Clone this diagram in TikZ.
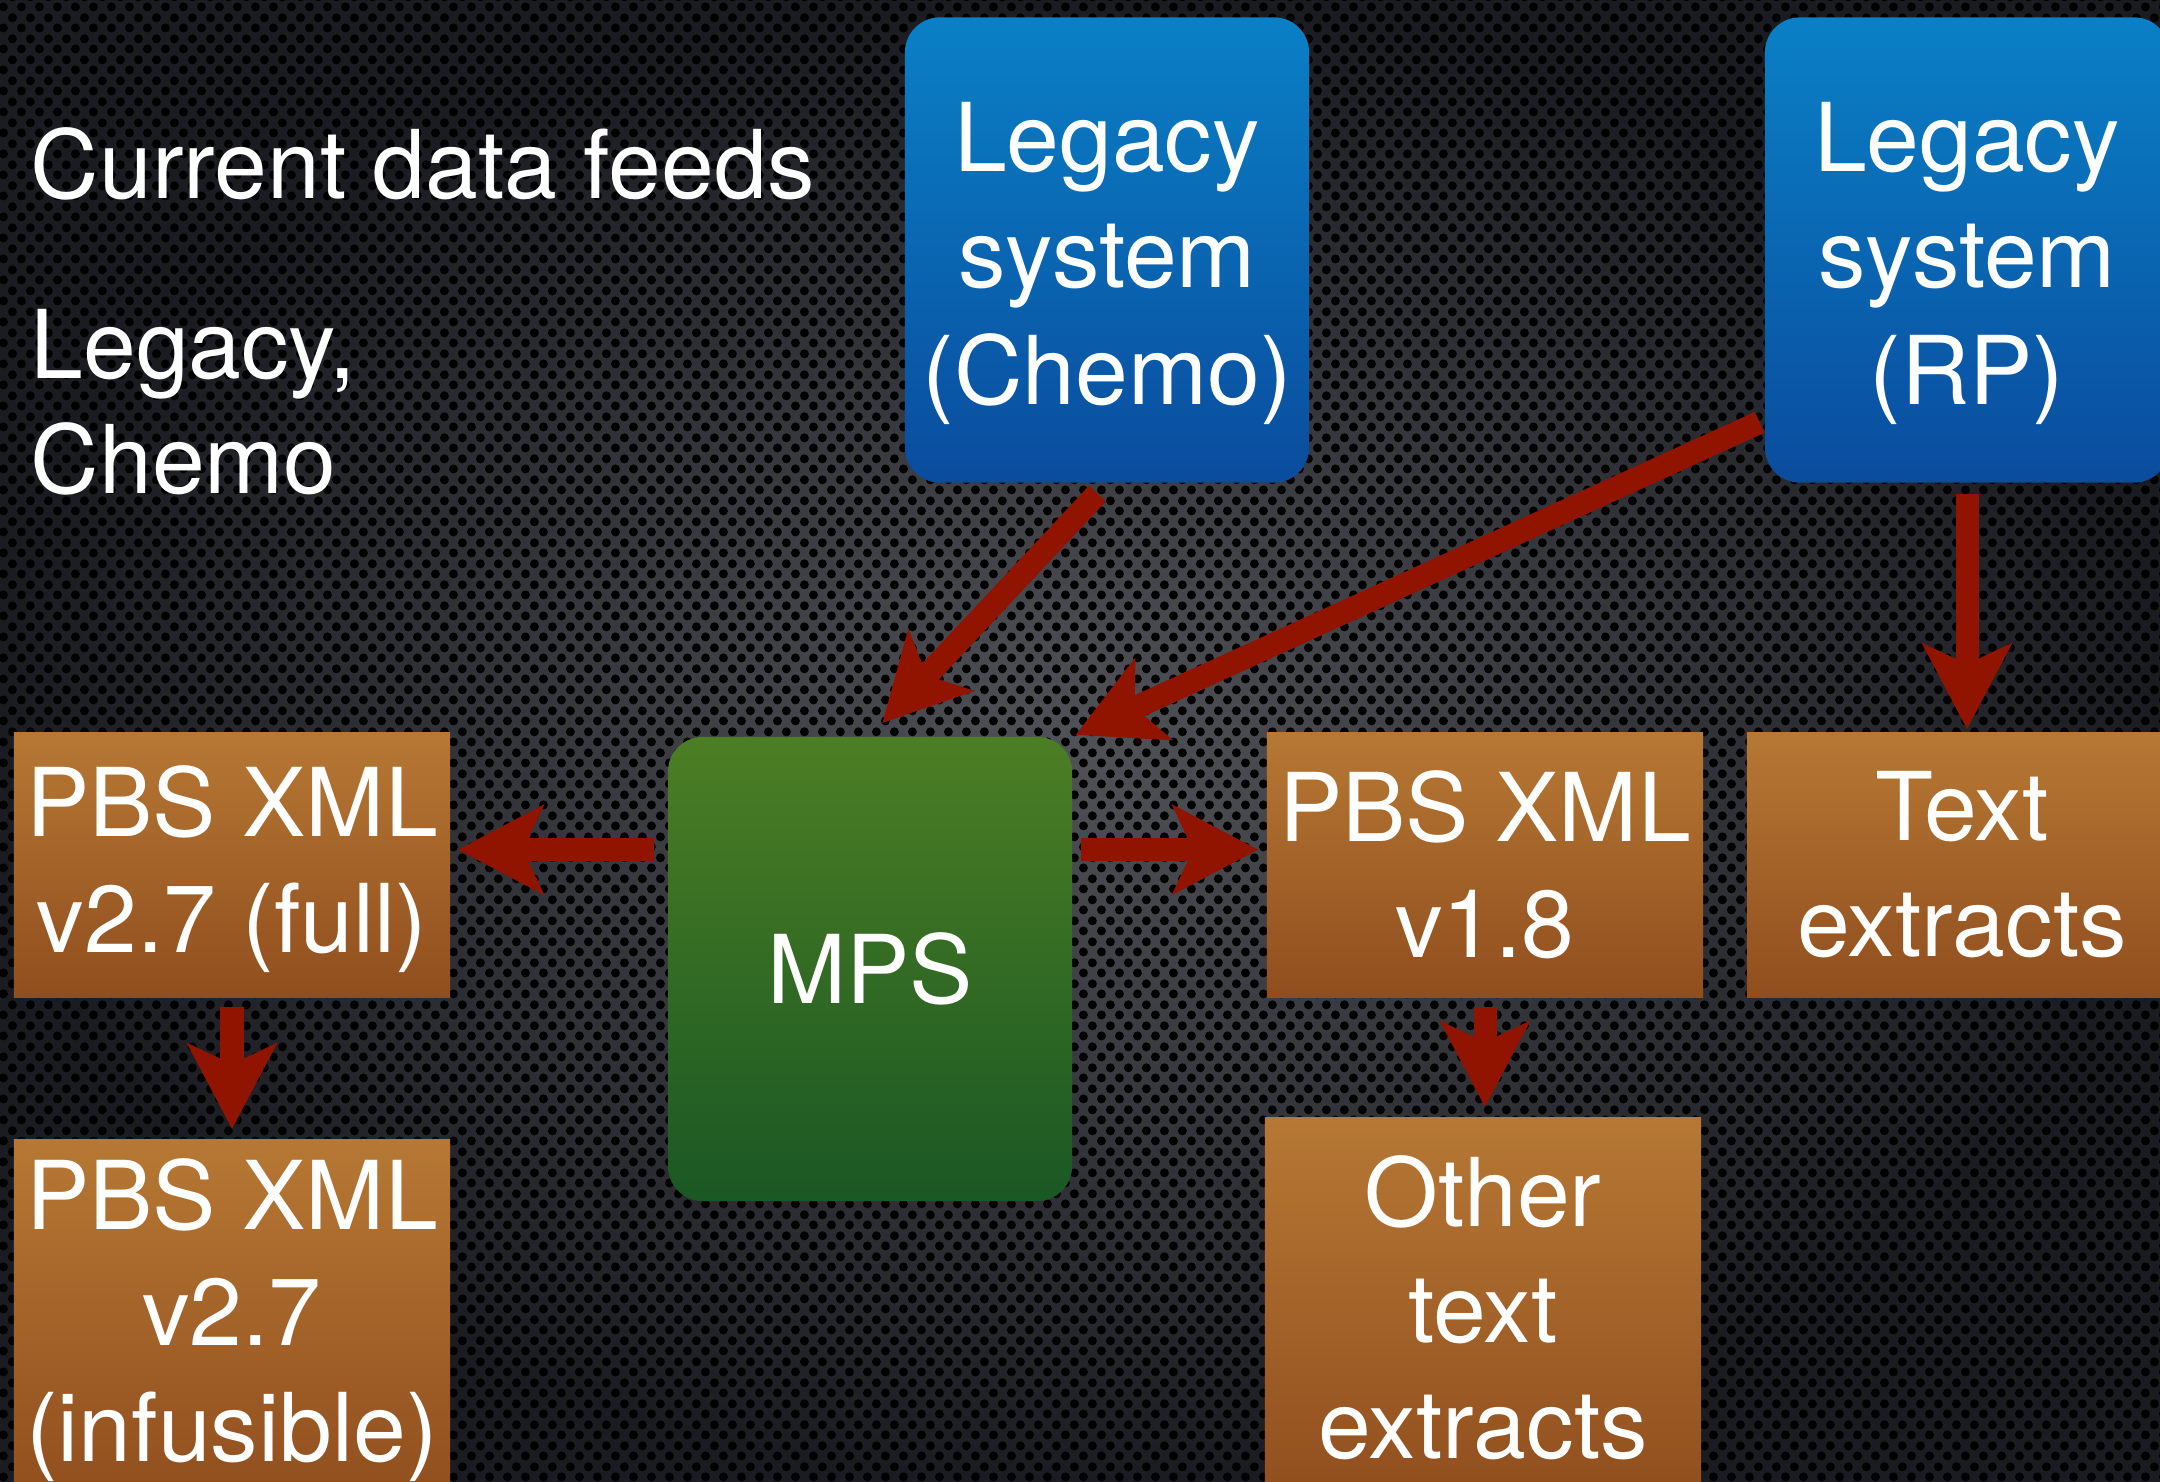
\documentclass[tikz,border=0pt]{standalone}
\usepackage{fontspec}
\setmainfont{TeX Gyre Heros}
\usetikzlibrary{arrows.meta,patterns.meta,positioning}
\definecolor{bgin}{RGB}{80,82,88}
\definecolor{bgout}{RGB}{26,28,33}
\definecolor{legtop}{RGB}{10,128,198}
\definecolor{legbot}{RGB}{10,76,158}
\definecolor{mpstop}{RGB}{76,126,36}
\definecolor{mpsbot}{RGB}{26,88,36}
\definecolor{outtop}{RGB}{182,120,52}
\definecolor{outbot}{RGB}{144,78,30}
\definecolor{feed}{RGB}{144,20,0}
\tikzdeclarepattern{
  name=holes, type=uncolored,
  bottom left={(0,0)}, top right={(0.184,0.206)},
  tile size={(0.184,0.206)},
  code={
    \fill (0.046,0.0515) circle (0.046);
    \fill (0.138,0.1545) circle (0.046);
  }
}

\begin{document}
\begin{tikzpicture}[x=0.01cm, y=-0.01cm, >={Stealth[length=0.85cm, width=0.88cm, inset=0.2cm]}]
  \tikzset{bigfont/.style={text=white, font=\fontsize{27}{33}\selectfont}}
  \tikzset{legacybox/.style={bigfont, align=center, rounded corners=0.35cm, top color=legtop, bottom color=legbot, minimum width=4.04cm, minimum height=4.65cm}}
  \tikzset{mpsbox/.style={bigfont, align=center, rounded corners=0.35cm, top color=mpstop, bottom color=mpsbot, minimum width=4.04cm, minimum height=4.64cm}}
  \tikzset{outbox/.style={bigfont, align=center, top color=outtop, bottom color=outbot, minimum width=4.36cm, minimum height=2.64cm}}
  \tikzset{feedarrow/.style={->, draw=feed, line width=0.23cm, shorten <=0.1cm, shorten >=0.1cm}}

  % background
  \shade[inner color=bgin, outer color=bgout] (0,0) rectangle (2160,1482);
  \fill[pattern=holes, pattern color=black] (0,0) rectangle (2160,1482);
  \useasboundingbox (0,0) rectangle (2160,1482);

  \node[name = title, bigfont, anchor=north west, inner sep=0] at (30,127) {Current data feeds};
  \node[name = note, bigfont, font=\fontsize{27}{32.5}\selectfont, align=left, anchor=north west, inner sep=0] at (30,309) {Legacy,\\Chemo};

  \node[name = leg1, legacybox] at (1107,250) {\rule{0pt}{0.96cm}Legacy\\system\\(Chemo)};
  \node[name = leg2, legacybox] at (1967,250) {\rule{0pt}{0.96cm}Legacy\\system\\(RP)};

  \node[name = mps, mpsbox] at (870,969) {MPS};

  \node[name = xml27, outbox] at (232,865) {\rule{0pt}{0.8cm}PBS XML\\v2.7 (full)};
  \node[name = xml27i, outbox, minimum height=3.6cm] at (232,1320) {PBS XML\\v2.7\\(infusible)};
  \node[name = xml18, outbox] at (1485,865) {PBS XML\\v1.8};
  \node[name = other, outbox, minimum height=3.8cm] at (1483,1308) {Other\\text\\extracts};
  \node[name = textx, outbox, minimum width=4.3cm] at (1962,865) {Text\\extracts};

  \draw [feedarrow, shorten <=0.14cm, shorten >=0.18cm] (leg1.south) -- (mps.north);
  \draw [feedarrow, shorten <=0.05cm, shorten >=0.03cm] (leg2.220) -- (mps.north east);
  \draw [feedarrow, shorten <=0.11cm, shorten >=0.03cm] (leg2.south) -- (leg2.south |- textx.north);

  \draw [feedarrow, shorten <=0.13cm, shorten >=0.07cm] (mps.west |- xml27.4) -- (xml27.4);
  \draw [feedarrow, shorten <=0.08cm, shorten >=0.08cm] (mps.east |- xml18.176) -- (xml18.176);

  \draw [feedarrow, shorten <=0.09cm] (xml27.south) -- (xml27i.north);
  \draw [feedarrow, shorten <=0.09cm] (xml18.south) -- (xml18.south |- other.north);
\end{tikzpicture}
\end{document}
